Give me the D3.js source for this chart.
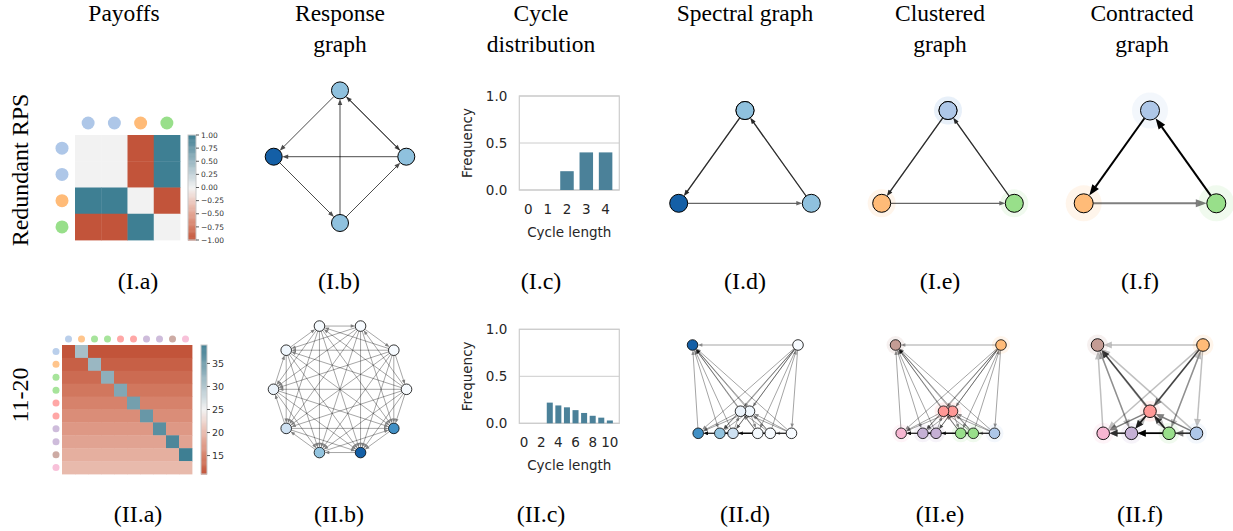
<!DOCTYPE html>
<html>
<head>
<meta charset="utf-8">
<script src="https://cdn.jsdelivr.net/npm/d3@7"></script>
<style>
  body { margin: 0; background: #fff; }
  svg { display: block; }
</style>
</head>
<body>
<svg width="1233" height="531"></svg>
<script>
// ---- data ----
const columnTitles = [["Payoffs"], ["Response", "graph"], ["Cycle", "distribution"],
  ["Spectral graph"], ["Clustered", "graph"], ["Contracted", "graph"]];
const rowLabels = ["Redundant RPS", "11-20"];
const rowNumerals = ["I", "II"];
const panelLetters = ["a", "b", "c", "d", "e", "f"];

// payoff matrices (row player payoff)
const payoffRPS = [
  [0, 0, -1, 1],
  [0, 0, -1, 1],
  [1, 1, 0, -1],
  [-1, -1, 1, 0]
];
const payoff1120 = [
  [11, 31, 11, 11, 11, 11, 11, 11, 11, 11],
  [12, 12, 32, 12, 12, 12, 12, 12, 12, 12],
  [13, 13, 13, 33, 13, 13, 13, 13, 13, 13],
  [14, 14, 14, 14, 34, 14, 14, 14, 14, 14],
  [15, 15, 15, 15, 15, 35, 15, 15, 15, 15],
  [16, 16, 16, 16, 16, 16, 36, 16, 16, 16],
  [17, 17, 17, 17, 17, 17, 17, 37, 17, 17],
  [18, 18, 18, 18, 18, 18, 18, 18, 38, 18],
  [19, 19, 19, 19, 19, 19, 19, 19, 19, 39],
  [20, 20, 20, 20, 20, 20, 20, 20, 20, 20]
];
const colorbarTicksRPS = [1, 0.75, 0.5, 0.25, 0, -0.25, -0.5, -0.75, -1];
const colorbarTicks1120 = [35, 30, 25, 20, 15];

// clusters and colours
const clusterColors = ["#aec7e8", "#ffbb78", "#98df8a", "#ff9896", "#c5b0d5", "#c49c94", "#f7b6d2"];
const clusterRPS = [0, 0, 1, 2];
const cluster1120 = [0, 1, 2, 2, 3, 3, 4, 4, 5, 6];

// node mass (shading of response / spectral graphs)
const massRPS = [0.2, 0.2, 0.4, 0.2];
const mass1120 = [0, 0, 0, 0.004, 0.012, 0.022, 0.075, 0.146, 0.30, 0.23];

// spectral embedding (2d)
const spectralRPSx = [0, 0, -1, 1];
const spectralRPSy = [1, 1, -1, -1];
const spectral1120x = [0.877, 1.0, 0.477, 0.24, 0.085, -0.085, -0.226, -0.475, -0.99, -0.883];
const spectral1120y = [-1, 1, -1, -1, -0.5, -0.5, -1, -1, 1, -1];

// cycle length distributions
const cycleLenRPS = [0, 1, 2, 3, 4];
const cycleFreqRPS = [0, 0, 0.2, 0.4, 0.4];
const cycleLen1120 = [0, 1, 2, 3, 4, 5, 6, 7, 8, 9, 10];
const cycleFreq1120 = [0, 0, 0, 0.22, 0.19, 0.17, 0.14, 0.11, 0.08, 0.06, 0.03];
const cycleTicksRPS = [0, 1, 2, 3, 4];
const cycleTicks1120 = [0, 2, 4, 6, 8, 10];

// ---- setup ----
const svg = d3.select("svg");
const serif = "'Liberation Serif', 'DejaVu Serif', serif";
const sans = "'DejaVu Sans', sans-serif";

// response graph: i -> j when j does at least as well against i as i does against j
function responseEdges(M) {
  const edges = [];
  for (let i = 0; i < M.length; i++)
    for (let j = 0; j < M.length; j++)
      if (i != j && M[j][i] >= M[i][j]) edges.push([i, j]);
  return edges;
}

function drawArrow(g, a, b, ra, rb, o) {
  const dx = b.x - a.x, dy = b.y - a.y, d = Math.hypot(dx, dy);
  if (d < 1e-6) return;
  const ux = dx / d, uy = dy / d;
  const sx = a.x + ux * ra, sy = a.y + uy * ra;
  const tx = b.x - ux * rb, ty = b.y - uy * rb;
  const bx = tx - ux * o.hl, by = ty - uy * o.hl;
  g.append("line")
    .attr("x1", sx).attr("y1", sy)
    .attr("x2", bx + ux * 0.3).attr("y2", by + uy * 0.3)
    .attr("stroke", o.color || "#000")
    .attr("stroke-opacity", o.opacity)
    .attr("stroke-width", o.width);
  g.append("path")
    .attr("d", `M${tx},${ty}L${bx - uy * o.hw / 2},${by + ux * o.hw / 2}L${bx + uy * o.hw / 2},${by - ux * o.hw / 2}Z`)
    .attr("fill", o.color || "#000")
    .attr("fill-opacity", o.opacity);
}

function drawGraph(nodes, edges, o) {
  const g = svg.append("g");
  if (o.halo) {
    g.selectAll(".halo").data(nodes).enter().append("circle")
      .attr("cx", d => d.x).attr("cy", d => d.y).attr("r", o.halo)
      .attr("fill", d => d.fill).attr("fill-opacity", 0.15);
  }
  const ge = g.append("g");
  edges.forEach(e => {
    drawArrow(ge, nodes[e.s], nodes[e.t], o.r, o.r, {
      hl: o.hl, hw: o.hw, width: o.width, opacity: e.opacity
    });
  });
  g.selectAll(".node").data(nodes).enter().append("circle")
    .attr("cx", d => d.x).attr("cy", d => d.y).attr("r", o.r)
    .attr("fill", d => d.fill)
    .attr("stroke", "#000").attr("stroke-width", o.strokeW);
}

function blues(mass) {
  const mx = d3.max(mass);
  const s = d3.scaleLinear().domain([0, mx]).range([0, 0.82]);
  return mass.map(m => d3.interpolateBlues(s(m)));
}

// ---- heatmaps ----
function drawHeatmap(M, clusters, box, cb, lo, mid, hi, ticks, fmt, circR, fontSize, circOpacity) {
  const n = M.length;
  const g = svg.append("g");
  const color = d3.scaleDiverging(d3.piecewise(d3.interpolateLab, ["#c2543a", "#f2f2f2", "#3e7f93"]))
    .domain([lo, mid, hi]);
  const x = d3.scaleBand().domain(d3.range(n)).range([box.x0, box.x1]);
  const y = d3.scaleBand().domain(d3.range(n)).range([box.y0, box.y1]);
  M.forEach((row, i) => row.forEach((v, j) => {
    g.append("rect")
      .attr("x", x(j)).attr("y", y(i))
      .attr("width", x.bandwidth() + 0.4).attr("height", y.bandwidth() + 0.4)
      .attr("fill", color(v));
  }));
  g.selectAll(".ct").data(clusters).enter().append("circle")
    .attr("cx", (c, j) => x(j) + x.bandwidth() / 2)
    .attr("cy", box.topCirc).attr("r", circR)
    .attr("fill", c => clusterColors[c]).attr("fill-opacity", circOpacity);
  g.selectAll(".cl").data(clusters).enter().append("circle")
    .attr("cx", box.leftCirc)
    .attr("cy", (c, i) => y(i) + y.bandwidth() / 2).attr("r", circR)
    .attr("fill", c => clusterColors[c]).attr("fill-opacity", circOpacity);

  // colour bar
  const cy = d3.scaleLinear().domain([lo, hi]).range([cb.y1, cb.y0]);
  const steps = 120;
  d3.range(steps).forEach(k => {
    const v0 = lo + (hi - lo) * k / steps;
    const v1 = lo + (hi - lo) * (k + 1) / steps;
    g.append("rect")
      .attr("x", cb.x0).attr("y", cy(v1))
      .attr("width", cb.x1 - cb.x0).attr("height", cy(v0) - cy(v1) + 0.5)
      .attr("fill", color((v0 + v1) / 2));
  });
  g.append("rect")
    .attr("x", cb.x0).attr("y", cb.y0)
    .attr("width", cb.x1 - cb.x0).attr("height", cb.y1 - cb.y0)
    .attr("fill", "none").attr("stroke", "#c8c8c8").attr("stroke-width", 1);
  ticks.forEach(t => {
    g.append("line")
      .attr("x1", cb.x1).attr("x2", cb.x1 + 3)
      .attr("y1", cy(t)).attr("y2", cy(t))
      .attr("stroke", "#333").attr("stroke-width", 0.8);
    g.append("text")
      .attr("x", cb.x1 + 5).attr("y", cy(t)).attr("dy", "0.35em")
      .attr("font-family", sans).attr("font-size", fontSize).attr("fill", "#333")
      .text(fmt(t));
  });
}

drawHeatmap(payoffRPS, clusterRPS,
  { x0: 75, x1: 180, y0: 135, y1: 240, topCirc: 123, leftCirc: 62 },
  { x0: 188, x1: 196, y0: 135, y1: 240 },
  -1, 0, 1, colorbarTicksRPS, d3.format(".2f"), 6.5, 7.5, 1);

drawHeatmap(payoff1120, cluster1120,
  { x0: 62, x1: 192, y0: 345, y1: 474, topCirc: 339, leftCirc: 56 },
  { x0: 201, x1: 207, y0: 345, y1: 474 },
  11, 25, 39, colorbarTicks1120, d3.format("d"), 3.5, 9.5, 0.85);

// ---- response graphs (circular layout) ----
function circularNodes(n, cx, cy, r, fills) {
  return d3.range(n).map(k => {
    const a = 2 * Math.PI * k / n;
    return { x: cx + r * Math.cos(a), y: cy - r * Math.sin(a), fill: fills[k] };
  });
}

drawGraph(circularNodes(4, 340, 156.7, 66.3, blues(massRPS)),
  responseEdges(payoffRPS).map(e => ({ s: e[0], t: e[1], opacity: 0.7 })),
  { r: 8.5, hl: 6, hw: 4.5, width: 1, strokeW: 1 });

drawGraph(circularNodes(10, 340, 389.3, 66.5, blues(mass1120)),
  responseEdges(payoff1120).map(e => ({ s: e[0], t: e[1], opacity: 0.5 })),
  { r: 5.3, hl: 4.5, hw: 3.5, width: 0.7, strokeW: 0.8 });

// ---- cycle distributions ----
function drawCycles(lens, freqs, ticks, frame, xDomain) {
  const g = svg.append("g");
  const x = d3.scaleLinear().domain(xDomain).range([frame.x0, frame.x1]);
  const y = d3.scaleLinear().domain([0, 1]).range([frame.y1, frame.y0]);
  const unit = x(1) - x(0);
  [0, 0.5, 1].forEach(t => {
    g.append("line")
      .attr("x1", frame.x0).attr("x2", frame.x1)
      .attr("y1", y(t)).attr("y2", y(t))
      .attr("stroke", "#cccccc").attr("stroke-width", 1);
  });
  g.append("rect")
    .attr("x", frame.x0).attr("y", frame.y0)
    .attr("width", frame.x1 - frame.x0).attr("height", frame.y1 - frame.y0)
    .attr("fill", "none").attr("stroke", "#cccccc").attr("stroke-width", 1.2);
  g.selectAll(".bar").data(lens).enter().append("rect")
    .attr("x", d => x(d) - unit * 0.35)
    .attr("width", unit * 0.7)
    .attr("y", (d, i) => y(freqs[i]))
    .attr("height", (d, i) => y(0) - y(freqs[i]))
    .attr("fill", "#4b8199");
  [0, 0.5, 1].forEach(t => {
    g.append("text")
      .attr("x", frame.x0 - 12).attr("y", y(t)).attr("dy", "0.36em")
      .attr("text-anchor", "end")
      .attr("font-family", sans).attr("font-size", 13.5).attr("fill", "#262626")
      .text(d3.format(".1f")(t));
  });
  ticks.forEach(t => {
    g.append("text")
      .attr("x", x(t)).attr("y", frame.y1 + 23.5)
      .attr("text-anchor", "middle")
      .attr("font-family", sans).attr("font-size", 13.5).attr("fill", "#262626")
      .text(t);
  });
  g.append("text")
    .attr("x", (frame.x0 + frame.x1) / 2).attr("y", frame.y1 + 46.5)
    .attr("text-anchor", "middle")
    .attr("font-family", sans).attr("font-size", 13.5).attr("fill", "#262626")
    .text("Cycle length");
  g.append("text")
    .attr("transform", `translate(472,${(frame.y0 + frame.y1) / 2}) rotate(-90)`)
    .attr("text-anchor", "middle")
    .attr("font-family", sans).attr("font-size", 13.5).attr("fill", "#262626")
    .text("Frequency");
}

drawCycles(cycleLenRPS, cycleFreqRPS, cycleTicksRPS,
  { x0: 519.3, x1: 619.3, y0: 96, y1: 190 }, [-0.47, 4.71]);
drawCycles(cycleLen1120, cycleFreq1120, cycleTicks1120,
  { x0: 519.3, x1: 619.3, y0: 329.3, y1: 423.3 }, [-0.55, 11.1]);

// ---- spectral, clustered and contracted graphs ----
function spectralNodes(xs, ys, cx, half, yTop, yBottom, fills) {
  const x = d3.scaleLinear().domain([-1, 1]).range([cx - half, cx + half]);
  const y = d3.scaleLinear().domain([-1, 1]).range([yBottom, yTop]);
  return xs.map((v, i) => ({ x: x(v), y: y(ys[i]), fill: fills[i] }));
}

function contract(nodes, edges, clusters) {
  const k = d3.max(clusters) + 1;
  const cn = d3.range(k).map(c => {
    const members = nodes.filter((d, i) => clusters[i] == c);
    return { x: d3.mean(members, d => d.x), y: d3.mean(members, d => d.y), fill: clusterColors[c] };
  });
  const counts = new Map();
  edges.forEach(([s, t]) => {
    const a = clusters[s], b = clusters[t];
    if (a == b) return;
    const key = a + "-" + b;
    counts.set(key, (counts.get(key) || 0) + 1);
  });
  const mx = d3.max(Array.from(counts.values()));
  const ce = Array.from(counts, ([key, c]) => {
    const [a, b] = key.split("-").map(Number);
    return { s: a, t: b, opacity: c / mx };
  });
  return { nodes: cn, edges: ce };
}

const games = [
  { M: payoffRPS, cl: clusterRPS, mass: massRPS, sx: spectralRPSx, sy: spectralRPSy,
    half: 66.3, yTop: 110.5, yBottom: 203.3,
    spec: { r: 9, hl: 6, hw: 4.5, width: 1.2, strokeW: 1, op: 0.6 },
    clus: { r: 9, hl: 6, hw: 4.5, width: 1.2, strokeW: 1, op: 0.6, halo: 14 },
    cont: { r: 9.5, hl: 11, hw: 8, width: 2, strokeW: 1, halo: 18 } },
  { M: payoff1120, cl: cluster1120, mass: mass1120, sx: spectral1120x, sy: spectral1120y,
    half: 53, yTop: 345, yBottom: 433.3,
    spec: { r: 5.3, hl: 4.5, hw: 3.5, width: 0.8, strokeW: 0.8, op: 0.45 },
    clus: { r: 5.3, hl: 4.5, hw: 3.5, width: 0.8, strokeW: 0.8, op: 0.45, halo: 9 },
    cont: { r: 6.3, hl: 8, hw: 7, width: 1.5, strokeW: 0.9, halo: 10.5 } }
];
const panelCenters = [745, 948, 1150];

games.forEach(G => {
  const edges = responseEdges(G.M);
  const specNodes = spectralNodes(G.sx, G.sy, panelCenters[0], G.half, G.yTop, G.yBottom, blues(G.mass));
  drawGraph(specNodes, edges.map(e => ({ s: e[0], t: e[1], opacity: G.spec.op })), G.spec);

  const clusNodes = spectralNodes(G.sx, G.sy, panelCenters[1], G.half, G.yTop, G.yBottom,
    G.cl.map(c => clusterColors[c]));
  drawGraph(clusNodes, edges.map(e => ({ s: e[0], t: e[1], opacity: G.clus.op })), G.clus);

  const base = spectralNodes(G.sx, G.sy, panelCenters[2], G.half, G.yTop, G.yBottom,
    G.cl.map(c => clusterColors[c]));
  const c = contract(base, edges, G.cl);
  drawGraph(c.nodes, c.edges, G.cont);
});

// ---- titles, captions, row labels ----
const titleX = [124, 340, 541, 745, 940, 1142];
const captionX = [138, 339, 541, 745, 940, 1140];
columnTitles.forEach((lines, i) => {
  lines.forEach((t, k) => {
    svg.append("text")
      .attr("x", titleX[i]).attr("y", 21 + k * 31)
      .attr("text-anchor", "middle")
      .attr("font-family", serif).attr("font-size", 23.5).attr("fill", "#000")
      .text(t);
  });
});
rowNumerals.forEach((r, ri) => {
  panelLetters.forEach((l, i) => {
    svg.append("text")
      .attr("x", captionX[i]).attr("y", ri == 0 ? 289 : 522)
      .attr("text-anchor", "middle")
      .attr("font-family", serif).attr("font-size", 24).attr("fill", "#000")
      .text(`(${r}.${l})`);
  });
});
const rowLabelY = [170, 395];
rowLabels.forEach((t, i) => {
  svg.append("text")
    .attr("transform", `translate(28,${rowLabelY[i]}) rotate(-90)`)
    .attr("text-anchor", "middle")
    .attr("font-family", serif).attr("font-size", 24).attr("fill", "#000")
    .text(t);
});
</script>
</body>
</html>
